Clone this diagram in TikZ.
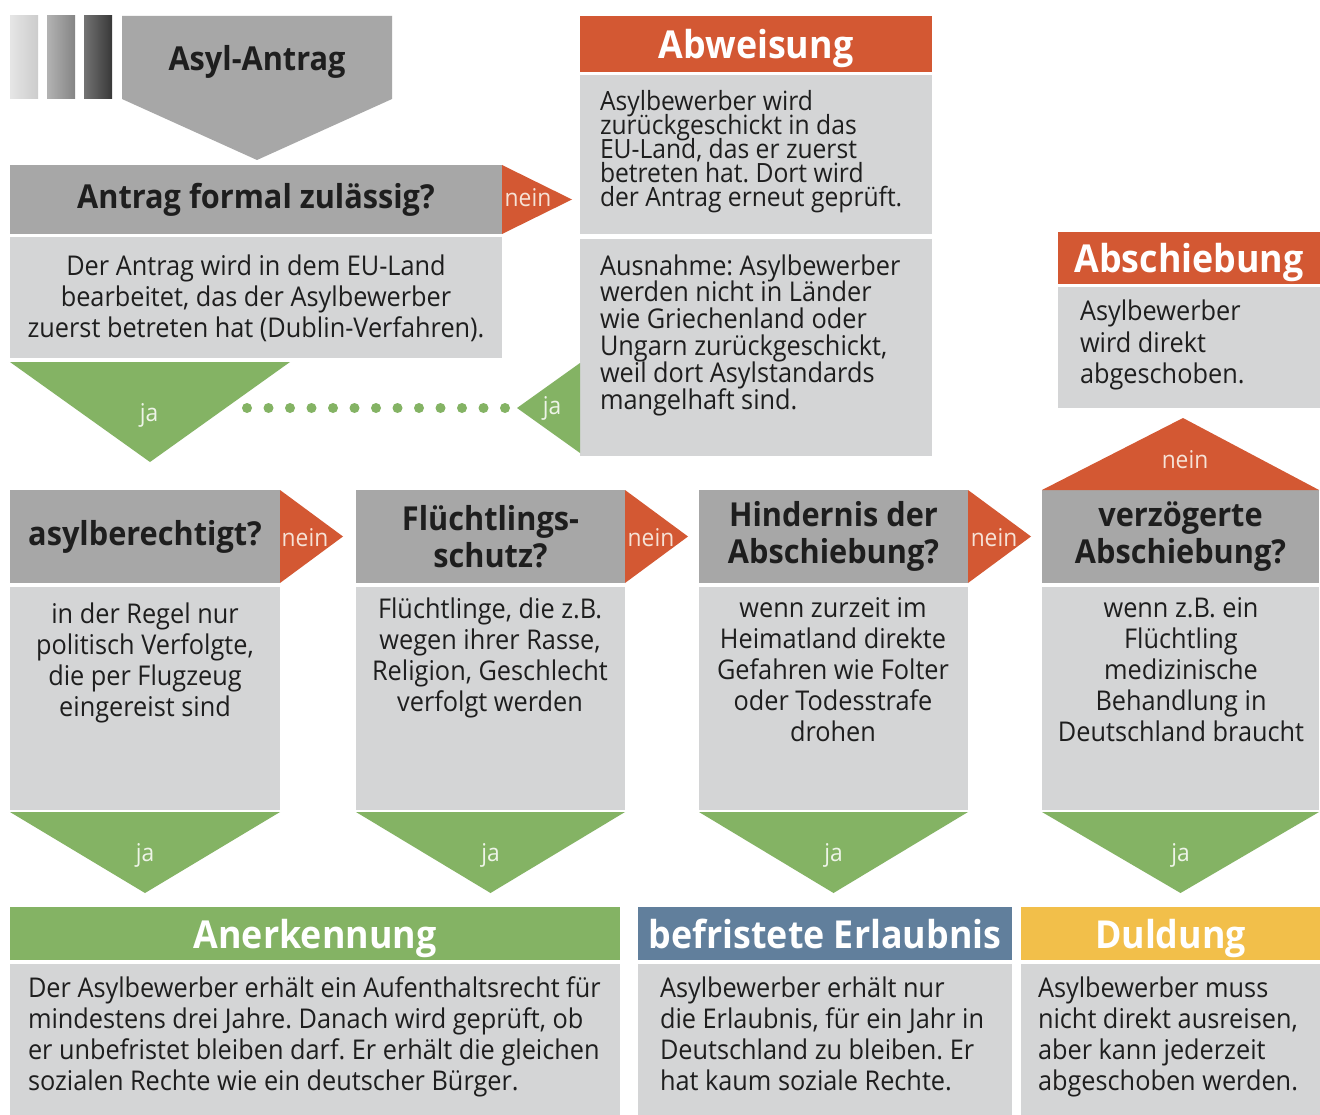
\documentclass[tikz,border=0pt]{standalone}
\usepackage{fontspec}
\setmainfont{Open Sans}[FakeStretch=0.93]
\frenchspacing
\usetikzlibrary{calc}
\newcommand{\tightlines}{\lineskiplimit=-30pt\relax}
\definecolor{hgray}{HTML}{A7A7A7}
\definecolor{bgray}{HTML}{D4D5D6}
\definecolor{cred}{HTML}{D35833}
\definecolor{cgreen}{HTML}{84B364}
\definecolor{cblue}{HTML}{617F9C}
\definecolor{cyellow}{HTML}{F2BF4A}
\definecolor{ctext}{HTML}{1E1E1E}
\definecolor{lblred}{HTML}{F6E2D6}
\definecolor{lblgreen}{HTML}{EEF4E8}
\begin{document}
\begin{tikzpicture}[x=1pt,y=-1pt,
  box/.style={anchor=north west, inner sep=0pt, outer sep=0pt, draw=none},
  hdr/.style={box, fill=hgray, text=ctext, align=center, font=\fontsize{33}{37}\selectfont\bfseries},
  bdy/.style={box, fill=bgray},
  res/.style={box, text=white, text depth=0pt, align=center, font=\fontsize{38.5}{40}\selectfont\bfseries},
  txt/.style={inner sep=0pt, outer sep=0pt, text=ctext, font=\fontsize{27.2}{31}\selectfont},
  ctxt/.style={txt, anchor=north, align=center},
  ltxt/.style={txt, anchor=north west, align=left},
  lab/.style={inner sep=0pt, font=\fontsize{24.5}{25}\selectfont},
  nein/.style={lab, text=lblred},
  ja/.style={lab, text=lblgreen},
  dots/.style={cgreen, line width=10pt, line cap=round, dash pattern=on 0pt off 21.5pt}
]
\useasboundingbox (0,0) rectangle (1320,1115);
\fill[white] (0,0) rectangle (1320,1115);

% gradient bars
\shade[left color=black!10, right color=black!20] (10,16) rectangle (38,99);
\shade[left color=black!30, right color=black!48] (47,16) rectangle (75,99);
\shade[left color=black!55, right color=black!78] (84,16) rectangle (112,99);

% Asyl-Antrag arrow
\fill[hgray] (122,16) -- (392,16) -- (392,99) -- (257,160) -- (122,99) -- cycle;
\node[inner sep=0pt, text=ctext, font=\fontsize{33}{37}\selectfont\bfseries] (start) at (257,62) {Asyl-Antrag};

% Antrag formal zulaessig
\node[hdr, minimum width=492pt, minimum height=69pt] (hA) at (10,165) {Antrag formal zulässig?};
\node[bdy, minimum width=492pt, minimum height=121pt] (bA) at (10,237) {};
\node[ctxt] (tA) at (256,254.5) {Der Antrag wird in dem EU-Land\\bearbeitet, das der Asylbewerber\\zuerst betreten hat (Dublin-Verfahren).};
\fill[cred] (hA.north east) -- ($(hA.east)+(70,0)$) -- (hA.south east) -- cycle;
\node[nein] (nA) at (528,198) {nein};

% Abweisung
\node[res, fill=cred, minimum width=352pt, minimum height=56pt] (hW) at (580,16) {Abweisung};
\node[bdy, minimum width=352pt, minimum height=159pt] (bW1) at (580,75) {};
\node[ltxt, font=\fontsize{26.5}{24}\selectfont\tightlines] (tW1) at (600,90.5) {Asylbewerber wird\\zurückgeschickt in das\\EU-Land, das er zuerst\\betreten hat. Dort wird\\der Antrag erneut geprüft.};
\node[bdy, minimum width=352pt, minimum height=217pt] (bW2) at (580,239) {};
\node[ltxt, font=\fontsize{27.2}{26.8}\selectfont\tightlines] (tW2) at (600,254.5) {Ausnahme: Asylbewerber\\werden nicht in Länder\\wie Griechenland oder\\Ungarn zurückgeschickt,\\weil dort Asylstandards\\mangelhaft sind.};

% ja from Antrag body and Ausnahme
\fill[cgreen] (10,362) -- (290,362) -- (150,462) -- cycle;
\node[ja] (jA) at (149,415) {ja};
\fill[cgreen] (bW2.west |- 0,363) -- (bW2.west |- 0,453) -- (517,408) -- cycle;
\node[ja] (jW) at (552,408) {ja};
\coordinate (dS) at (505,408);
\coordinate (dE) at (247,408);
\draw[dots] (dS) -- (dE);

% Abschiebung
\node[res, fill=cred, minimum width=262pt, minimum height=52pt] (hX) at (1058,232) {Abschiebung};
\node[bdy, minimum width=262pt, minimum height=121pt] (bX) at (1058,287) {};
\node[ltxt, font=\fontsize{27.2}{31.5}\selectfont] (tX) at (1080,300) {Asylbewerber\\wird direkt\\abgeschoben.};

% decision columns
\node[hdr, minimum width=270pt, minimum height=93pt] (h1) at (10,490) {asylberechtigt?};
\node[bdy, minimum width=270pt, minimum height=223pt] (b1) at (10,587) {};
\node[ctxt] (t1) at (145,602.5) {in der Regel nur\\politisch Verfolgte,\\die per Flugzeug\\eingereist sind};

\node[hdr, minimum width=269pt, minimum height=93pt] (h2) at (356,490) {Flüchtlings-\\schutz?};
\node[bdy, minimum width=269pt, minimum height=223pt] (b2) at (356,587) {};
\node[ctxt] (t2) at (490,597.5) {Flüchtlinge, die z.B.\\wegen ihrer Rasse,\\Religion, Geschlecht\\verfolgt werden};

\node[hdr, minimum width=269pt, minimum height=93pt] (h3) at (699,490) {Hindernis der\\Abschiebung?};
\node[bdy, minimum width=269pt, minimum height=223pt] (b3) at (699,587) {};
\node[ctxt] (t3) at (833,597.5) {wenn zurzeit im\\Heimatland direkte\\Gefahren wie Folter\\oder Todesstrafe\\drohen};

\node[hdr, minimum width=277pt, minimum height=93pt] (h4) at (1042,490) {verzögerte\\Abschiebung?};
\node[bdy, minimum width=277pt, minimum height=223pt] (b4) at (1042,587) {};
\node[ctxt] (t4) at (1181,597.5) {wenn z.B. ein\\Flüchtling\\medizinische\\Behandlung in\\Deutschland braucht};

% nein arrows between columns
\foreach \h/\n/\x in {h1/n1/305, h2/n2/651, h3/n3/994}{
  \fill[cred] (\h.north east) -- ($(\h.east)+(63,0)$) -- (\h.south east) -- cycle;
  \node[nein] (\n) at (\x,538) {nein};
}
\fill[cred] (h4.north west) -- (h4.north east) -- (1183,418) -- cycle;
\node[nein] (n4) at (1185,460) {nein};

% ja arrows down
\foreach \b/\j in {b1/j1, b2/j2, b3/j3, b4/j4}{
  \fill[cgreen] ($(\b.south west)+(0,2)$) -- ($(\b.south east)+(0,2)$) -- ($(\b.south)+(0,83)$) -- cycle;
  \node[ja] (\j) at ($(\b.south)+(0,45)$) {ja};
}

% results
\node[res, fill=cgreen, minimum width=610pt, minimum height=53pt] (hR1) at (10,907) {Anerkennung};
\node[bdy, minimum width=610pt, minimum height=152pt] (bR1) at (10,964) {};
\node[ltxt] (tR1) at (28,976.5) {Der Asylbewerber erhält ein Aufenthaltsrecht für\\mindestens drei Jahre. Danach wird geprüft, ob\\er unbefristet bleiben darf. Er erhält die gleichen\\sozialen Rechte wie ein deutscher Bürger.};

\node[res, fill=cblue, minimum width=374pt, minimum height=53pt] (hR2) at (638,907) {befristete Erlaubnis};
\node[bdy, minimum width=374pt, minimum height=152pt] (bR2) at (638,964) {};
\node[ltxt] (tR2) at (660,976.5) {Asylbewerber erhält nur\\die Erlaubnis, für ein Jahr in\\Deutschland zu bleiben. Er\\hat kaum soziale Rechte.};

\node[res, fill=cyellow, minimum width=299pt, minimum height=53pt] (hR3) at (1021,907) {Duldung};
\node[bdy, minimum width=299pt, minimum height=152pt] (bR3) at (1021,964) {};
\node[ltxt] (tR3) at (1038,976.5) {Asylbewerber muss\\nicht direkt ausreisen,\\aber kann jederzeit\\abgeschoben werden.};
\end{tikzpicture}
\end{document}
